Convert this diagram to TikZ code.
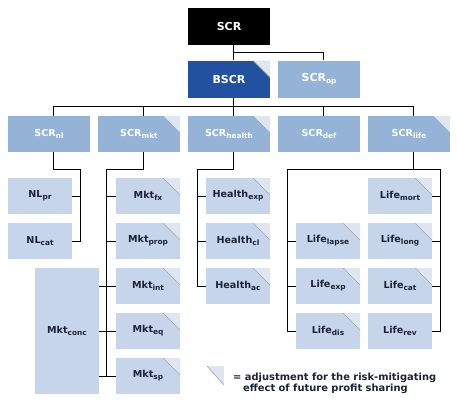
\documentclass[tikz,border=0pt]{standalone}
\usepackage{fontspec}
\setmainfont{DejaVu Sans}
\usepackage{tikz}
\usetikzlibrary{calc,positioning}
\definecolor{RiskBlack}{HTML}{000000}
\definecolor{RiskDeep}{HTML}{22529F}
\definecolor{RiskMid}{HTML}{95B3D7}
\definecolor{RiskLight}{HTML}{C6D5EA}
\definecolor{RiskInk}{HTML}{1B2436}
\definecolor{FoldFill}{HTML}{DFE6F0}
\definecolor{FoldLine}{HTML}{9AA5B5}
\newcommand{\rsub}[1]{\raisebox{-0.4ex}{\fontsize{7.4}{8}\selectfont #1}}
\tikzset{
  foldcorner/.style={path picture={
    \fill[FoldFill] ([xshift=-17pt]path picture bounding box.north east) -- (path picture bounding box.north east) -- ([yshift=-17pt]path picture bounding box.north east) -- cycle;
    \draw[FoldLine,line width=.6pt] ([xshift=-17pt]path picture bounding box.north east) -- ([yshift=-17pt]path picture bounding box.north east);}},
  topbox/.style={text=white,inner sep=0pt,minimum width=82pt,minimum height=37pt,font=\bfseries\fontsize{11}{13}\selectfont},
  riskbox/.style={fill=RiskMid,text=white,inner sep=0pt,minimum width=82pt,minimum height=36pt,font=\bfseries\fontsize{9.6}{11}\selectfont},
  modbox/.style={fill=RiskLight,text=RiskInk,inner sep=0pt,minimum width=64pt,minimum height=36pt,font=\bfseries\fontsize{9.6}{11}\selectfont},
  treeline/.style={draw=black,line width=1pt}
}
\begin{document}
\begin{tikzpicture}[x=1pt,y=-1pt]
\path[use as bounding box,fill=white] (0,0) rectangle (457,418);
% top of the tree
\node[topbox,fill=RiskBlack] (scr) at (229,26) {SCR};
\node[topbox,fill=RiskDeep,foldcorner] (bscr) at (229,79) {BSCR};
\node[topbox,fill=RiskMid] (scrop) at (319,79) {SCR\rsub{op}};
% risk modules
\node[riskbox] (scrnl) at (49,134) {SCR\rsub{nl}};
\node[riskbox,foldcorner] (scrmkt) at (139,134) {SCR\rsub{mkt}};
\node[riskbox,foldcorner] (scrhealth) at (229,134) {SCR\rsub{health}};
\node[riskbox] (scrdef) at (319,134) {SCR\rsub{def}};
\node[riskbox,foldcorner] (scrlife) at (409,134) {SCR\rsub{life}};
% sub-modules
\node[modbox] (nlpr) at (40,196) {NL\rsub{pr}};
\node[modbox] (nlcat) at (40,241) {NL\rsub{cat}};
\node[modbox,foldcorner] (mktfx) at (148,196) {Mkt\rsub{fx}};
\node[modbox,foldcorner] (mktprop) at (148,241) {Mkt\rsub{prop}};
\node[modbox,foldcorner] (mktint) at (148,286) {Mkt\rsub{int}};
\node[modbox,foldcorner] (mkteq) at (148,331) {Mkt\rsub{eq}};
\node[modbox,foldcorner] (mktsp) at (148,376) {Mkt\rsub{sp}};
\node[modbox,minimum height=126pt] (mktconc) at (67,331) {Mkt\rsub{conc}};
\node[modbox,foldcorner] (healthexp) at (238,196) {Health\rsub{exp}};
\node[modbox,foldcorner] (healthcl) at (238,241) {Health\rsub{cl}};
\node[modbox,foldcorner] (healthac) at (238,286) {Health\rsub{ac}};
\node[modbox,foldcorner] (lifelapse) at (328,241) {Life\rsub{lapse}};
\node[modbox,foldcorner] (lifeexp) at (328,286) {Life\rsub{exp}};
\node[modbox,foldcorner] (lifedis) at (328,331) {Life\rsub{dis}};
\node[modbox,foldcorner] (lifemort) at (400,196) {Life\rsub{mort}};
\node[modbox,foldcorner] (lifelong) at (400,241) {Life\rsub{long}};
\node[modbox,foldcorner] (lifecat) at (400,286) {Life\rsub{cat}};
\node[modbox] (liferev) at (400,331) {Life\rsub{rev}};
% connectors
\draw[treeline] ($(scr.south)+(4,0)$) -- ($(bscr.north)+(4,0)$);
\draw[treeline] ($(scr.south)+(4,8)$) -| ($(scrop.north)+(4,0)$);
\draw[treeline] ($(bscr.south)+(4,0)$) -- ($(scrhealth.north)+(4,0)$);
\draw[treeline] ($(scrnl.north)+(4,0)$) |- ($(scrlife.north)+(4,-9)$) -- ($(scrlife.north)+(4,0)$);
\foreach \n in {scrmkt,scrdef}
  \draw[treeline] ($(\n.north)+(4,0)$) -- ++(0,-9);
\draw[treeline] ($(scrnl.south)+(4,0)$) -- ++(0,17) -| ($(nlcat.east)+(8,0)$) -- (nlcat.east);
\draw[treeline] (nlpr.east) -- ++(8,0);
\draw[treeline] ($(scrmkt.south)+(4,0)$) -- ++(0,17) -| ($(mktsp.west)+(-9,0)$) -- (mktsp.west);
\foreach \n in {mktfx,mktprop,mktint,mkteq}
  \draw[treeline] (\n.west) -- ++(-9,0);
\foreach \n in {mktint,mkteq,mktsp}
  \draw[treeline] (mktconc.east |- \n.west) -- ($(\n.west)+(-9,0)$);
\draw[treeline] ($(scrhealth.south)+(4,0)$) -- ++(0,17) -| ($(healthac.west)+(-8,0)$) -- (healthac.west);
\foreach \n in {healthexp,healthcl}
  \draw[treeline] (\n.west) -- ++(-8,0);
\coordinate (lifebus) at ($(scrlife.south)+(4,17)$);
\draw[treeline] ($(scrlife.south)+(4,0)$) -- (lifebus);
\draw[treeline] (lifedis.west) -- ++(-8,0) |- ($(lifebus -| liferev.east)+(8,0)$) |- (liferev.east);
\foreach \n in {lifelapse,lifeexp}
  \draw[treeline] (\n.west) -- ++(-8,0);
\foreach \n in {lifemort,lifelong,lifecat}
  \draw[treeline] (\n.east) -- ++(8,0);
% legend
\fill[FoldFill] (207,366) -- (224,366) -- (224,385) -- cycle;
\draw[FoldLine,line width=.6pt] (207,366) -- (224,385);
\node[anchor=west,align=left,text=RiskInk,inner sep=0pt,font=\bfseries\fontsize{9.9}{11.5}\selectfont] (legend) at (233,383.5) {= adjustment for the risk-mitigating\\\hspace*{10pt}effect of future profit sharing};
\end{tikzpicture}
\end{document}
